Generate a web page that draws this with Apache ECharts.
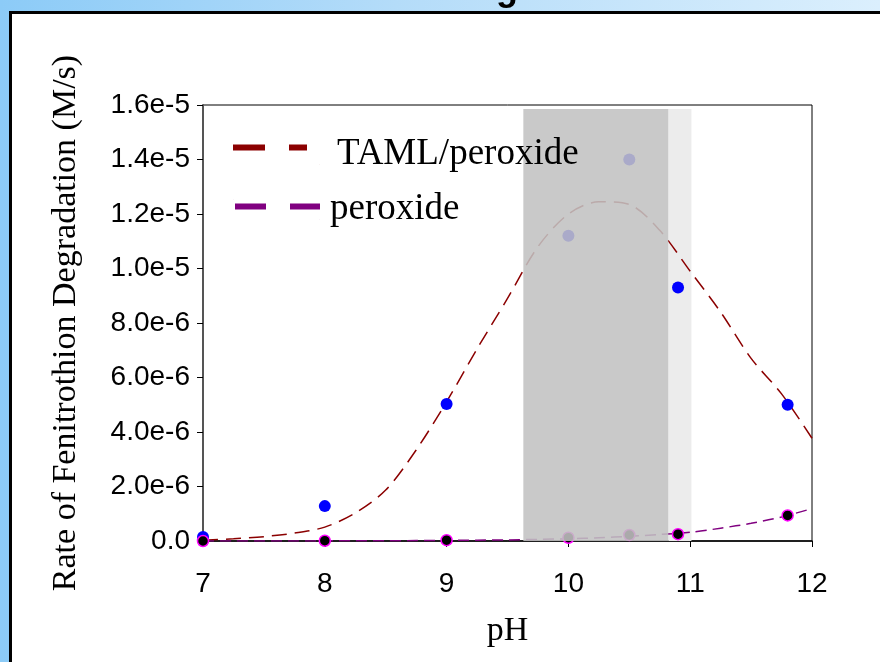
<!DOCTYPE html>
<html>
<head>
<meta charset="utf-8">
<script src="https://cdn.jsdelivr.net/npm/echarts@6/dist/echarts.min.js"></script>
<style>
  html, body { margin: 0; padding: 0; width: 880px; height: 662px; overflow: hidden; }
  body { background: linear-gradient(to right, #8ccbf7 0%, #b4dcf9 45%, #dbeffd 100%); position: relative; }
  #panel { position: absolute; left: 9px; top: 11px; width: 900px; height: 700px; background: #fff;
           border-left: 3px solid #000; border-top: 3px solid #000; }
  #chart { position: absolute; left: 0; top: 0; width: 880px; height: 662px; }
</style>
</head>
<body>
<div id="panel"></div>
<div id="chart"></div>
<script>
// ---- data ----
const pHPoints = [7, 8, 9, 10, 10.5, 10.9, 11.8];
const tamlRates = [1.5e-7, 1.28e-6, 5.03e-6, 1.12e-5, 1.40e-5, 9.3e-6, 5.0e-6];
const peroxideRates = [0, 1e-8, 3e-8, 1.2e-7, 2.2e-7, 2.5e-7, 9.4e-7];

const fitPH = [7, 7.25, 7.5, 7.75, 8, 8.25, 8.5, 8.75, 9, 9.25, 9.5, 9.75, 10, 10.25, 10.5, 10.75, 11, 11.25, 11.5, 11.75, 12];
const tamlFit = [3e-8, 8e-8, 1.6e-7, 2.9e-7, 5.1e-7, 1.03e-6, 1.87e-6, 3.34e-6, 5.11e-6, 7.05e-6, 8.9e-6, 1.08e-5, 1.2e-5, 1.245e-5, 1.235e-5, 1.14e-5, 9.9e-6, 8.4e-6, 6.7e-6, 5.4e-6, 3.77e-6];
const peroxideFit = [0, 0, 0, 3e-9, 5e-9, 7e-9, 1e-8, 1.5e-8, 2e-8, 3e-8, 4e-8, 6e-8, 8e-8, 1.2e-7, 1.7e-7, 2.4e-7, 3.2e-7, 4.7e-7, 6.5e-7, 8.8e-7, 1.19e-6];

const xTicks = ['7', '8', '9', '10', '11', '12'];
const yTickLabels = ['0.0', '2.0e-6', '4.0e-6', '6.0e-6', '8.0e-6', '1.0e-5', '1.2e-5', '1.4e-5', '1.6e-5'];

// shaded bands (pH start, pH end, rate bottom, rate top)
const darkBand = [9.63, 10.82, -1.1e-7, 1.585e-5];
const lightBand = [10.82, 11.01, -1.1e-7, 1.585e-5];

const zip = (a, b) => a.map((v, i) => [v, b[i]]);

const chart = echarts.init(document.getElementById('chart'), null, { renderer: 'canvas' });
const serif = 'Liberation Serif, Times New Roman, serif';
const sans = 'Liberation Sans, Arial, sans-serif';

chart.setOption({
  backgroundColor: 'transparent',
  animation: false,
  graphic: [{
    type: 'text', left: 496, top: -28,
    style: { text: 'g', font: 'bold 36px ' + sans, fill: '#000' }
  }],
  grid: { left: 203, right: 68, top: 105, bottom: 121, show: true, borderColor: '#000', borderWidth: 1, backgroundColor: 'transparent' },
  legend: {
    orient: 'vertical', left: 228, top: 131, itemGap: 18, z: 40,
    itemWidth: 87, itemHeight: 20,
    textStyle: { fontFamily: serif, fontSize: 37, color: '#000' },
    data: [
      { name: 'TAML/peroxide',
        icon: 'path://M0,0h32v6H0z M56,0h18v6H56z M86.8,19.8h0.2v0.2h-0.2z',
        textStyle: { padding: [0, 0, 0, 12] } },
      { name: 'peroxide',
        icon: 'path://M0,0h0.2v0.2H0z M2,4h31v6H2z M57,4h30v6H57z M86.8,19.8h0.2v0.2h-0.2z',
        textStyle: { padding: [0, 0, 0, 5] } }
    ]
  },
  xAxis: {
    type: 'value', min: 7, max: 12, interval: 1,
    name: 'pH', nameLocation: 'middle', nameGap: 73,
    nameTextStyle: { fontFamily: serif, fontSize: 34, color: '#000' },
    axisLine: { lineStyle: { color: '#000', width: 1.5 } },
    axisTick: { show: true, inside: false, length: 6, lineStyle: { color: '#000' } },
    splitLine: { show: false },
    axisLabel: { margin: 29, fontFamily: sans, fontSize: 28, color: '#000',
      formatter: (v) => { const i = Math.round(v - 7); return xTicks[i] !== undefined ? xTicks[i] : ''; } }
  },
  yAxis: {
    type: 'value', min: 0, max: 1.6e-5, interval: 2e-6,
    name: 'Rate of Fenitrothion Degradation (M/s)', nameLocation: 'middle', nameGap: 120, nameRotate: 90,
    nameTextStyle: { fontFamily: serif, fontSize: 34, color: '#000' },
    axisLine: { show: true, lineStyle: { color: '#555', width: 2 } },
    axisTick: { show: true, inside: false, length: 6, lineStyle: { color: '#000' } },
    splitLine: { show: false },
    axisLabel: { margin: 13, fontFamily: sans, fontSize: 28, color: '#000',
      formatter: (v) => { const i = Math.round(v / 2e-6); return yTickLabels[i] !== undefined ? yTickLabels[i] : ''; } }
  },
  series: [
    {
      type: 'line', name: 'lightBand', data: [], z: 1, silent: true,
      markArea: { silent: true, z: 1, itemStyle: { color: '#ececec' },
        data: [[{ coord: [lightBand[0], lightBand[2]] }, { coord: [lightBand[1], lightBand[3]] }]] }
    },
    {
      type: 'line', name: 'TAML/peroxide', data: zip(fitPH, tamlFit), smooth: 0.3, showSymbol: false, z: 3,
      lineStyle: { color: '#8b0000', width: 1.5, type: [15, 8] }, itemStyle: { color: '#8b0000' }
    },
    {
      type: 'line', name: 'peroxide', data: zip(fitPH, peroxideFit), smooth: 0.3, showSymbol: false, z: 3,
      lineStyle: { color: '#800080', width: 1.5, type: [11, 6] }, itemStyle: { color: '#800080' }
    },
    {
      type: 'scatter', name: 'TAML points', data: zip(pHPoints, tamlRates), symbolSize: 12, z: 4,
      itemStyle: { color: '#0000ff', opacity: 1 }
    },
    {
      type: 'scatter', name: 'peroxide points', data: zip(pHPoints, peroxideRates), symbolSize: 11, z: 5,
      itemStyle: { color: '#000', borderColor: '#ff00ff', borderWidth: 1.5, opacity: 1 }
    },
    {
      type: 'line', name: 'darkBand', data: [], z: 20, silent: true,
      markArea: { silent: true, z: 20, itemStyle: { color: 'rgba(194,194,194,0.88)' },
        data: [[{ coord: [darkBand[0], darkBand[2]] }, { coord: [darkBand[1], darkBand[3]] }]] }
    }
  ]
});
</script>
</body>
</html>
